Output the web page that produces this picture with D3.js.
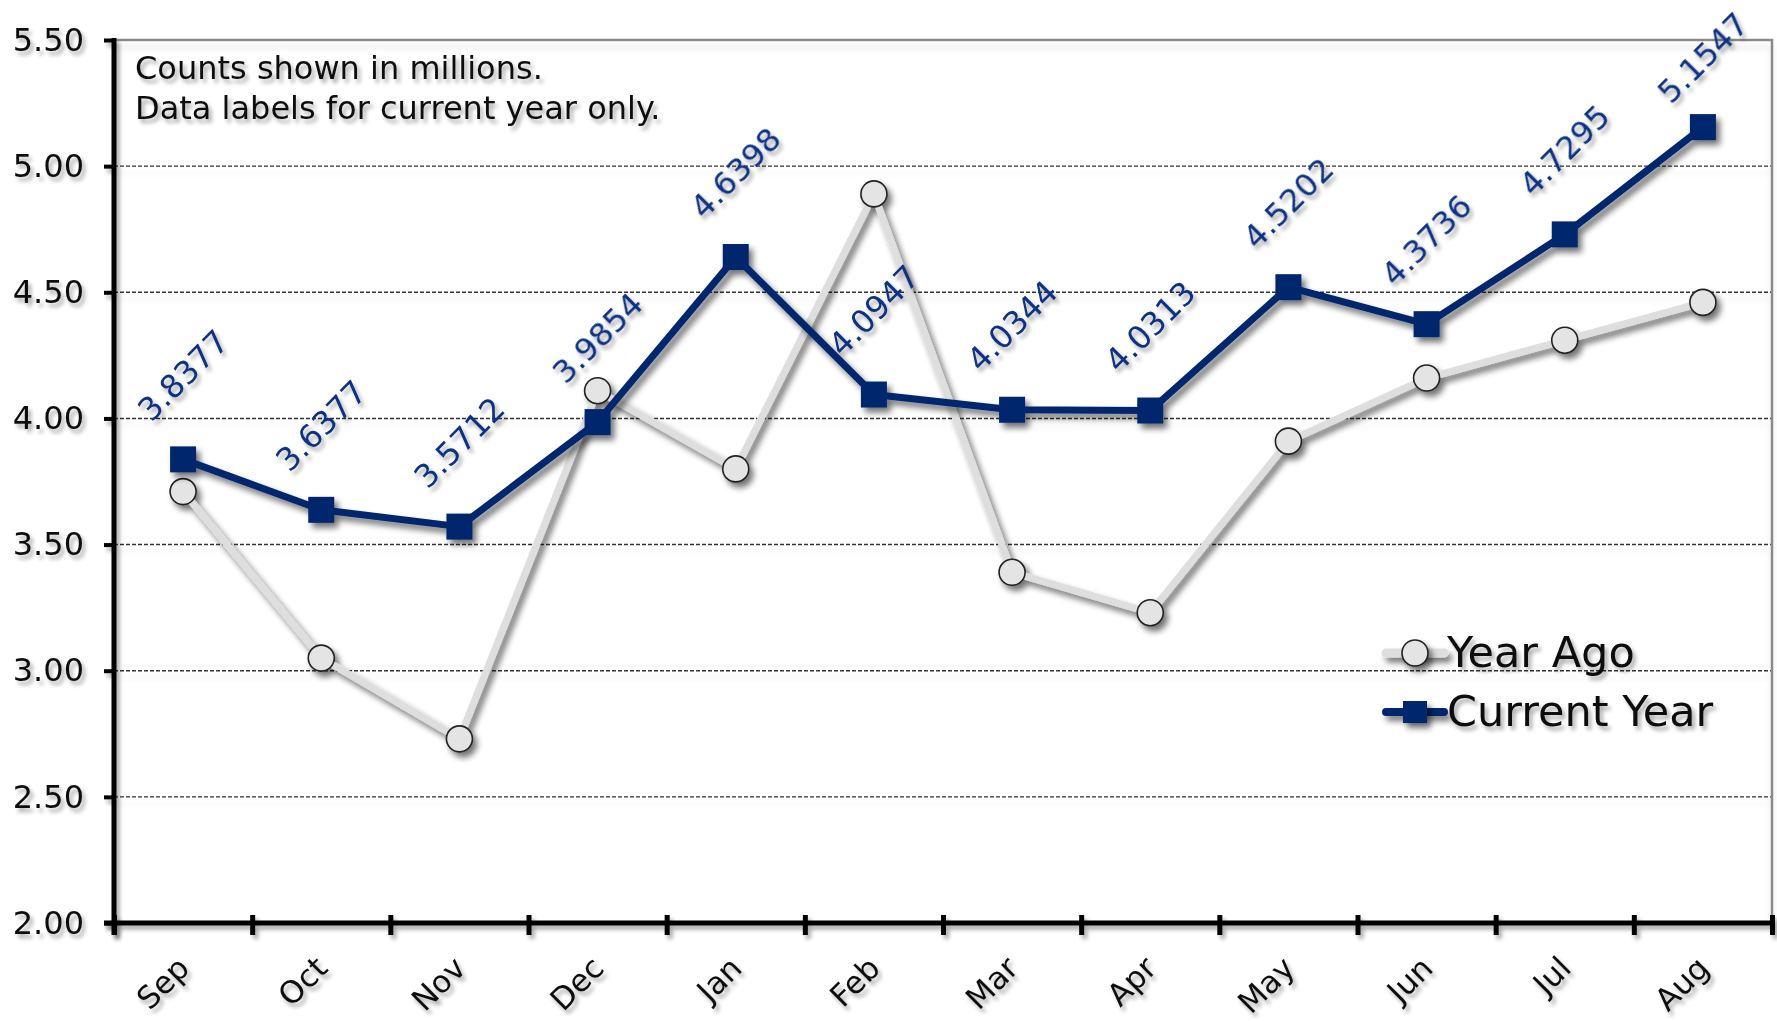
<!DOCTYPE html>
<html>
<head>
<meta charset="utf-8">
<script src="https://cdn.jsdelivr.net/npm/d3@7"></script>
<style>
  body { margin: 0; background: #fff; }
  svg { display: block; }
  text { font-family: "DejaVu Sans", Verdana, sans-serif; }
</style>
</head>
<body>
<svg width="1777" height="1021"></svg>
<script>
const months      = ["Sep", "Oct", "Nov", "Dec", "Jan", "Feb", "Mar", "Apr", "May", "Jun", "Jul", "Aug"];
const yearAgo     = [3.71, 3.05, 2.73, 4.11, 3.80, 4.89, 3.39, 3.23, 3.91, 4.16, 4.31, 4.46];
const currentYear = [3.8377, 3.6377, 3.5712, 3.9854, 4.6398, 4.0947, 4.0344, 4.0313, 4.5202, 4.3736, 4.7295, 5.1547];
const yTicks      = [2.00, 2.50, 3.00, 3.50, 4.00, 4.50, 5.00, 5.50];
const notes       = ["Counts shown in millions.", "Data labels for current year only."];
const seriesNames = ["Year Ago", "Current Year"];

const width = 1777, height = 1021;
const plotL = 114, plotR = 1772, plotT = 40, plotB = 923;

const navy = "#00266e";
const labelBlue = "#0f3283";
const grey = "#dedede";

const svg = d3.select("svg");

// shadows: big user-space region so translated groups and flat lines keep them
const defs = svg.append("defs");
function shadow(id, dx, dy, blur, op) {
  const f = defs.append("filter").attr("id", id)
    .attr("filterUnits", "userSpaceOnUse")
    .attr("x", -2000).attr("y", -2000).attr("width", 6000).attr("height", 6000);
  f.append("feGaussianBlur").attr("in", "SourceAlpha").attr("stdDeviation", blur).attr("result", "b");
  f.append("feOffset").attr("in", "b").attr("dx", dx).attr("dy", dy).attr("result", "o");
  f.append("feComponentTransfer").attr("in", "o").attr("result", "s")
    .append("feFuncA").attr("type", "linear").attr("slope", op);
  const m = f.append("feMerge");
  m.append("feMergeNode").attr("in", "s");
  m.append("feMergeNode").attr("in", "SourceGraphic");
}
shadow("lineShadow", 4, 5, 3, 0.55);
shadow("textShadow", 3, 4, 2, 0.35);
shadow("gridShadow", 0, 7, 3, 0.12);

const x = d3.scaleBand().domain(months).range([plotL, plotR]);
const xEdge = d3.scaleLinear().domain([0, months.length]).range([plotL, plotR]);
const y = d3.scaleLinear().domain([2, 5.5]).range([plotB, plotT]);

// gridlines
svg.append("g")
  .attr("filter", "url(#gridShadow)")
  .selectAll("line")
  .data(yTicks.filter(d => d > 2 && d < 5.5))
  .join("line")
    .attr("x1", plotL).attr("x2", plotR)
    .attr("y1", d => y(d)).attr("y2", d => y(d))
    .attr("stroke", "#333")
    .attr("stroke-width", 1.4)
    .attr("stroke-dasharray", "4,2");

// plot border (top / right)
svg.append("path")
  .attr("d", `M${plotL},${plotT}H${plotR}V${plotB}`)
  .attr("fill", "none")
  .attr("stroke", "#8a8a8a")
  .attr("stroke-width", 2.5)
  .attr("filter", "url(#gridShadow)");

// y axis
const yAxis = svg.append("g")
  .attr("transform", `translate(${plotL},0)`)
  .attr("filter", "url(#textShadow)")
  .call(d3.axisLeft(y).tickValues(yTicks).tickFormat(d3.format(".2f")).tickSize(10).tickSizeOuter(0));
yAxis.select(".domain").attr("stroke", "#000").attr("stroke-width", 5)
  .attr("d", `M0,${plotT - 2}V${plotB + 12}`);
yAxis.selectAll(".tick line").attr("stroke", "#000").attr("stroke-width", 4);
yAxis.selectAll(".tick text")
  .attr("x", -30)
  .attr("font-size", 32)
  .attr("fill", "#111")
  .attr("font-family", "'DejaVu Sans', Verdana, sans-serif");

// x axis (ticks on category edges)
const xAxis = svg.append("g")
  .attr("transform", `translate(0,${plotB})`)
  .attr("filter", "url(#textShadow)")
  .call(d3.axisBottom(xEdge).tickValues(d3.range(months.length + 1)).tickFormat("").tickSize(12).tickSizeOuter(0));
xAxis.select(".domain").attr("stroke", "#000").attr("stroke-width", 5)
  .attr("d", `M${plotL - 10},0H${plotR}`);
xAxis.selectAll(".tick line").attr("stroke", "#000").attr("stroke-width", 5).attr("y1", -8);

svg.append("g")
  .attr("filter", "url(#textShadow)")
  .selectAll("text")
  .data(months)
  .join("text")
    .attr("transform", d => `translate(${x(d) + x.bandwidth() / 2 + 8},${plotB + 47}) rotate(-45)`)
    .attr("text-anchor", "end")
    .attr("font-size", 31)
    .attr("fill", "#111")
    .text(d => d);

// notes
svg.append("g")
  .attr("filter", "url(#textShadow)")
  .selectAll("text")
  .data(notes)
  .join("text")
    .attr("x", 135)
    .attr("y", (d, i) => 79 + i * 40)
    .attr("font-size", 32)
    .attr("fill", "#111")
    .text(d => d);

const cx = (d, i) => x(months[i]) + x.bandwidth() / 2;
const line = d3.line().x(cx).y(d => y(d));

// year ago series
const ya = svg.append("g").attr("filter", "url(#lineShadow)");
ya.append("path")
  .datum(yearAgo)
  .attr("d", line)
  .attr("fill", "none")
  .attr("stroke", grey)
  .attr("stroke-width", 7)
  .attr("stroke-linejoin", "round");
ya.selectAll("circle")
  .data(yearAgo)
  .join("circle")
    .attr("cx", cx)
    .attr("cy", d => y(d))
    .attr("r", 13)
    .attr("fill", "#e4e4e4")
    .attr("stroke", "#222")
    .attr("stroke-width", 1.6);

// current year series
const cur = svg.append("g").attr("filter", "url(#lineShadow)");
cur.append("path")
  .datum(currentYear)
  .attr("d", line)
  .attr("fill", "none")
  .attr("stroke", navy)
  .attr("stroke-width", 7)
  .attr("stroke-linejoin", "round");
cur.selectAll("rect")
  .data(currentYear)
  .join("rect")
    .attr("x", (d, i) => cx(d, i) - 13)
    .attr("y", d => y(d) - 13)
    .attr("width", 26)
    .attr("height", 26)
    .attr("fill", navy);

// data labels, current year only (kept inside the chart at the top)
svg.append("g")
  .attr("filter", "url(#textShadow)")
  .selectAll("text")
  .data(currentYear)
  .join("text")
    .attr("transform", (d, i) => `translate(${cx(d, i)},${Math.max(y(d) - 84, 58)}) rotate(-45)`)
    .attr("text-anchor", "middle")
    .attr("dy", "0.35em")
    .attr("font-size", 32)
    .attr("fill", labelBlue)
    .text(d => d3.format(".4f")(d));

// legend
const legend = svg.append("g").attr("transform", "translate(1386,653)");
const items = legend.selectAll("g")
  .data(seriesNames)
  .join("g")
    .attr("transform", (d, i) => `translate(0,${i * 59})`);
items.append("line")
  .attr("x1", 0).attr("x2", 58)
  .attr("stroke", (d, i) => i === 0 ? grey : navy)
  .attr("stroke-width", (d, i) => i === 0 ? 9 : 8)
  .attr("stroke-linecap", "round")
  .attr("filter", "url(#lineShadow)");
items.filter((d, i) => i === 0).append("circle")
  .attr("cx", 29).attr("r", 13)
  .attr("fill", "#e4e4e4").attr("stroke", "#222").attr("stroke-width", 1.6)
  .attr("filter", "url(#lineShadow)");
items.filter((d, i) => i === 1).append("rect")
  .attr("x", 17).attr("y", -11).attr("width", 24).attr("height", 22)
  .attr("fill", navy)
  .attr("filter", "url(#lineShadow)");
items.append("text")
  .attr("x", 61)
  .attr("y", 14)
  .attr("font-size", 43)
  .attr("fill", "#111")
  .attr("filter", "url(#textShadow)")
  .text(d => d);
</script>
</body>
</html>
